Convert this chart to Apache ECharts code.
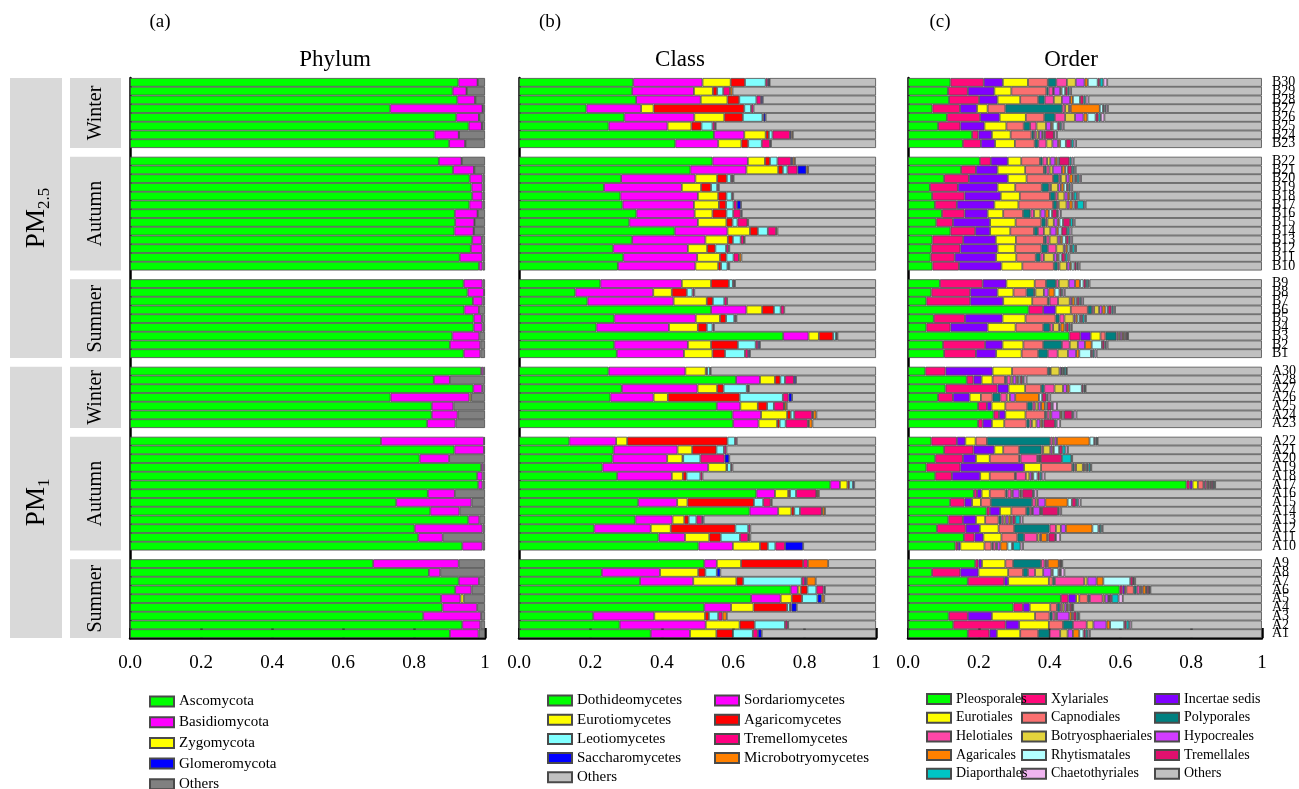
<!DOCTYPE html>
<html><head><meta charset="utf-8">
<script src="https://cdn.jsdelivr.net/npm/echarts@6/dist/echarts.min.js"></script>
<style>html,body{margin:0;padding:0;background:#fff}#c{width:1299px;height:789px}</style>
</head><body><div id="c"></div><script>
// ---------------- DATA ----------------
const samples = ['B30','B29','B28','B27','B26','B25','B24','B23',
 'B22','B21','B20','B19','B18','B17','B16','B15','B14','B13','B12','B11','B10',
 'B9','B8','B7','B6','B5','B4','B3','B2','B1',
 'A30','A28','A27','A26','A25','A24','A23',
 'A22','A21','A20','A19','A18','A17','A16','A15','A14','A13','A12','A11','A10',
 'A9','A8','A7','A6','A5','A4','A3','A2','A1'];
const groupSizes = [8,13,9,7,13,9];
const seasonLabels = ['Winter','Autumn','Summer','Winter','Autumn','Summer'];
const xTicks = [0,0.2,0.4,0.6,0.8,1];

const phylumNames = ['Ascomycota','Basidiomycota','Zygomycota','Glomeromycota','Others'];
const phylumColors = ['#00ff00','#ff00ff','#ffff00','#0000ff','#808080'];
const phylumRows = [
[.925,.054,.001,0,.020],[.909,.039,.001,0,.051],[.922,.050,.001,0,.027],[.733,.260,.001,0,.006],
[.919,.064,.001,0,.016],[.954,.037,.001,0,.008],[.858,.068,.001,0,.073],[.899,.045,.001,0,.055],
[.870,.064,.001,0,.065],[.910,.059,.001,0,.030],[.957,.036,0,0,.007],[.962,.031,0,0,.007],
[.964,.029,0,0,.007],[.956,.037,0,0,.007],[.915,.064,.001,0,.020],[.916,.054,.001,0,.029],
[.914,.054,.001,0,.031],[.964,.027,0,0,.009],[.960,.033,0,0,.007],[.929,.064,0,0,.007],
[.983,.010,0,0,.007],
[.940,.053,0,0,.007],[.951,.046,0,0,.003],[.966,.027,0,0,.007],[.942,.041,0,0,.017],
[.968,.023,0,0,.009],[.968,.025,0,0,.007],[.908,.076,0,0,.016],[.901,.086,0,0,.013],
[.940,.047,0,0,.013],
[.989,.006,0,0,.005],[.856,.045,0,0,.099],[.967,.025,0,0,.008],[.734,.222,.005,0,.039],
[.850,.061,0,0,.089],[.850,.073,0,0,.077],[.837,.080,0,0,.083],
[.707,.290,0,0,.003],[.914,.083,0,0,.003],[.816,.083,0,0,.101],[.989,.006,0,0,.005],
[.978,.015,0,0,.007],[.981,.012,0,0,.007],[.839,.076,0,0,.085],[.750,.212,0,0,.038],
[.846,.082,0,0,.072],[.953,.031,0,0,.016],[.802,.191,0,0,.007],[.812,.069,0,0,.119],
[.936,.057,0,0,.007],
[.685,.241,0,0,.074],[.842,.032,0,0,.126],[.926,.057,0,0,.017],[.916,.046,0,0,.038],
[.876,.055,.009,0,.060],[.880,.098,0,0,.022],[.826,.163,0,0,.011],[.936,.051,0,0,.013],
[.901,.081,0,0,.018]];

const classNames = ['Dothideomycetes','Sordariomycetes','Eurotiomycetes','Agaricomycetes','Leotiomycetes','Tremellomycetes','Saccharomycetes','Microbotryomycetes','Others'];
const classColors = ['#00ff00','#ff00ff','#ffff00','#ff0000','#80ffff','#ff0080','#0000ff','#ff8000','#c0c0c0'];
const classRows = [
[.320,.194,.079,.040,.058,.006,.004,.001,.298],[.317,.173,.053,.012,.017,.019,0,.007,.402],
[.328,.181,.075,.033,.048,.013,.005,0,.317],[.189,.153,.035,.254,.019,.007,0,0,.343],
[.295,.196,.084,.052,.055,.003,.006,0,.309],[.251,.165,.067,.028,.031,.007,.002,0,.449],
[.546,.085,.060,.009,.010,.049,.004,.004,.233],[.438,.120,.065,.019,.038,.023,.003,0,.294],
[.542,.099,.048,.014,.021,.038,.005,.006,.227],[.480,.157,.089,.013,.013,.028,.025,.005,.190],
[.286,.208,.061,.027,.012,.005,.002,0,.399],[.238,.218,.054,.028,.017,.005,0,0,.440],
[.284,.217,.057,.023,.015,.004,0,0,.400],[.290,.200,.070,.020,.021,.009,.012,0,.378],
[.329,.163,.050,.039,.019,.021,.003,0,.376],[.309,.192,.080,.017,.014,.028,.002,0,.358],
[.436,.148,.063,.022,.028,.023,0,.004,.276],[.317,.205,.063,.014,.022,.009,.002,0,.368],
[.264,.209,.054,.023,.030,.007,.002,0,.411],[.292,.207,.064,.018,.020,.015,0,.007,.377],
[.277,.217,.064,.008,.018,.003,.002,0,.411],
[.228,.228,.082,.050,.011,.004,.002,0,.395],[.158,.218,.052,.042,.016,.005,0,0,.509],
[.192,.241,.093,.017,.032,.008,0,0,.417],[.538,.099,.044,.033,.019,.010,0,0,.257],
[.267,.228,.068,.017,.023,.004,.002,0,.391],[.217,.203,.081,.025,.016,.004,0,0,.454],
[.740,.071,.029,.040,.008,.002,.002,0,.108],[.267,.206,.065,.075,.050,.007,.005,0,.325],
[.274,.188,.080,.035,.056,.009,.005,0,.353],
[.251,.215,.057,.004,.008,.002,0,0,.463],[.608,.067,.042,.015,.013,.025,.006,0,.224],
[.288,.212,.055,.018,.065,.004,.002,0,.356],[.256,.121,.040,.201,.121,.016,.010,0,.235],
[.554,.066,.049,.026,.019,.028,.002,.006,.250],[.598,.080,.073,.010,.010,.050,.003,.009,.167],
[.600,.071,.052,.007,.017,.062,.003,.010,.178],
[.141,.131,.031,.281,.021,.005,0,0,.390],[.265,.179,.041,.068,.021,.007,0,0,.419],
[.262,.153,.043,.002,.048,.068,.013,0,.411],[.234,.296,.051,.002,.011,.004,0,0,.402],
[.275,.153,.031,.010,.039,.006,0,0,.486],[.872,.027,.021,.005,.010,0,.004,0,.061],
[.665,.052,.037,.005,.017,.057,.002,.005,.160],[.334,.109,.029,.186,.026,.021,0,.003,.292],
[.646,.080,.037,.008,.016,.061,.002,.007,.143],[.326,.104,.033,.012,.022,.016,.004,0,.483],
[.211,.158,.056,.181,.036,.006,0,0,.352],[.391,.074,.068,.032,.054,.023,.002,.004,.352],
[.503,.096,.076,.022,.021,.027,.051,0,.204],
[.519,.035,.068,.174,0,.013,0,.057,.134],[.232,.163,.107,.020,.032,0,.010,0,.436],
[.339,.149,.121,.019,.164,.009,.005,.025,.169],[.761,.020,.008,.019,.025,.020,.004,0,.143],
[.650,.083,.031,.029,.043,0,.012,.007,.145],[.519,.075,.063,.094,.008,.004,.015,0,.222],
[.208,.171,.142,.011,.026,.012,0,.012,.418],[.282,.241,.095,.042,.085,.007,.002,0,.246],
[.369,.110,.074,.046,.056,.014,.011,0,.320]];

const orderNames = ['Pleosporales','Xylariales','Incertae sedis','Eurotiales','Capnodiales','Polyporales','Helotiales','Botryosphaeriales','Hypocreales','Agaricales','Rhytismatales','Tremellales','Diaporthales','Chaetothyriales','Others'];
const orderColors = ['#00ff00','#ff0a7a','#8000ff','#ffff00','#fa7070','#008080','#ff46a8','#e3d33c','#d23cff','#ff8000','#b4ffff','#e0106e','#00c4c4','#f0b4f0','#c0c0c0'];
const orderRows = [
[.120,.094,.054,.071,.056,.024,.030,.025,.025,.009,.028,.006,.010,.011,.437],
[.113,.056,.075,.048,.099,.006,.013,.002,.018,.004,.010,.007,.005,.005,.539],
[.116,.085,.052,.064,.051,.018,.026,.023,.023,.008,.020,.010,.006,.008,.490],
[.069,.078,.048,.030,.050,.161,.008,.011,.005,.082,.009,.004,.004,.006,.435],
[.110,.094,.055,.074,.052,.030,.029,.028,.024,.011,.023,.008,.007,.010,.445],
[.085,.063,.068,.062,.049,.018,.018,.027,.014,.005,.014,.006,.005,.006,.560],
[.181,.018,.038,.053,.059,.007,.007,.007,.009,.004,.004,.025,.002,.007,.579],
[.155,.051,.040,.056,.056,.010,.023,.017,.016,.006,.016,.015,.007,.007,.525],
[.203,.031,.048,.038,.053,.007,.013,.009,.014,.006,.005,.029,.006,.006,.532],
[.150,.042,.061,.078,.053,.007,.009,.009,.026,.009,.007,.012,.006,.005,.526],
[.102,.070,.110,.053,.075,.016,.006,.015,.009,.010,.006,.005,.007,.005,.511],
[.062,.079,.112,.050,.075,.020,.006,.020,.008,.008,.009,.005,.005,.005,.536],
[.068,.092,.102,.054,.085,.015,.007,.019,.009,.006,.006,.005,.009,.005,.518],
[.076,.062,.106,.068,.098,.011,.005,.022,.008,.009,.006,.007,.019,.005,.498],
[.096,.064,.065,.044,.056,.021,.010,.018,.014,.010,.009,.014,.004,.007,.568],
[.080,.047,.105,.072,.073,.012,.005,.018,.011,.005,.010,.020,.008,.005,.529],
[.120,.070,.042,.057,.067,.011,.017,.018,.017,.006,.009,.015,.007,.006,.538],
[.069,.087,.092,.057,.079,.007,.009,.023,.007,.006,.010,.008,.005,.005,.536],
[.066,.082,.105,.050,.074,.018,.024,.021,.005,.006,.007,.005,.008,.004,.525],
[.064,.068,.117,.057,.055,.013,.010,.028,.009,.005,.008,.010,.007,.005,.544],
[.069,.075,.120,.059,.089,.011,.005,.021,.008,.005,.008,.006,.004,.005,.515],
[.090,.121,.067,.080,.032,.028,.008,.028,.018,.014,.010,.007,.006,.004,.487],
[.066,.110,.077,.045,.037,.021,.004,.024,.013,.017,.014,.005,.004,.006,.557],
[.052,.124,.093,.082,.044,.005,.024,.033,.006,.008,.006,.007,.005,.006,.505],
[.341,.041,.035,.043,.048,.012,.006,.014,.009,.009,.007,.010,.005,.005,.415],
[.073,.088,.106,.065,.085,.011,.014,.026,.005,.006,.007,.006,.007,.004,.497],
[.052,.068,.105,.079,.078,.019,.009,.017,.004,.011,.004,.008,.005,.004,.537],
[.456,.031,.029,.028,.014,.031,.005,.005,.006,.005,.004,.004,.002,.002,.378],
[.099,.119,.049,.059,.056,.053,.022,.023,.020,.019,.029,.007,.004,.005,.436],
[.102,.090,.057,.072,.047,.027,.028,.029,.023,.009,.033,.005,.005,.006,.467],
[.049,.057,.133,.055,.101,.006,.002,.025,.005,.002,.004,.002,.006,.002,.551],
[.166,.019,.023,.031,.035,.005,.011,.006,.010,.005,.006,.006,.004,.008,.665],
[.106,.147,.031,.047,.045,.009,.029,.024,.011,.007,.035,.005,.004,.002,.498],
[.085,.042,.047,.032,.033,.022,.018,.009,.015,.067,.009,.012,.004,.007,.598],
[.198,.025,.013,.039,.062,.015,.008,.008,.008,.011,.006,.012,.004,.012,.579],
[.242,.015,.018,.057,.055,.005,.008,.005,.025,.005,.006,.023,.004,.008,.524],
[.198,.013,.026,.035,.063,.008,.007,.013,.011,.005,.004,.032,.005,.010,.570],
[.066,.072,.024,.029,.032,.179,.007,.005,.007,.092,.013,.004,.004,.002,.464],
[.102,.083,.059,.025,.045,.063,.005,.020,.006,.004,.015,.009,.009,.007,.548],
[.077,.078,.037,.039,.083,.004,.047,.003,.003,.002,.002,.060,.027,.002,.536],
[.052,.096,.180,.048,.088,.006,.005,.019,.004,.004,.004,.004,.006,.002,.482],
[.077,.047,.080,.027,.071,.003,.028,.010,.007,.004,.012,.006,.006,.008,.614],
[.787,.009,.008,.015,.016,.003,.006,.004,.004,.003,.002,.005,.004,.002,.132],
[.186,.009,.013,.023,.045,.005,.011,.004,.019,.004,.004,.030,.004,.008,.635],
[.119,.041,.021,.025,.028,.117,.010,.006,.021,.063,.012,.012,.006,.007,.512],
[.222,.009,.029,.032,.042,.010,.006,.003,.020,.003,.003,.045,.004,.005,.567],
[.114,.041,.037,.026,.038,.008,.006,.006,.008,.007,.004,.008,.014,.007,.676],
[.082,.081,.040,.053,.044,.100,.018,.014,.014,.075,.017,.004,.005,.003,.450],
[.158,.030,.025,.051,.045,.019,.037,.007,.004,.017,.004,.019,.002,.012,.570],
[.134,.007,.007,.068,.020,.004,.008,.004,.009,.020,.013,.003,.021,.007,.675],
[.190,.009,.010,.066,.022,.079,.010,.004,.005,.031,.002,.004,.002,.002,.564],
[.068,.080,.051,.084,.042,.014,.020,.023,.023,.004,.016,.004,.003,.010,.558],
[.169,.103,.011,.115,.011,.006,.083,.009,.026,.019,.076,.008,.002,.004,.358],
[.598,.008,.007,.004,.021,.008,.009,.004,.004,.009,.003,.006,.002,.002,.315],
[.432,.021,.022,.009,.024,.006,.036,.006,.010,.002,.002,.006,.019,.012,.393],
[.298,.027,.019,.058,.019,.009,.006,.006,.007,.004,.004,.006,.002,.002,.533],
[.115,.054,.068,.122,.041,.008,.008,.005,.035,.007,.004,.009,.005,.003,.516],
[.128,.148,.038,.084,.040,.028,.039,.019,.037,.010,.040,.006,.008,.006,.369],
[.169,.061,.021,.066,.051,.032,.030,.021,.015,.018,.012,.006,.006,.006,.486]];

// ---------------- BUILD ----------------
const FONT = "'Times New Roman','Liberation Serif',serif";
const TOP = 78, H = 560;
const nSlots = groupSizes.reduce((a,b)=>a+b,0) + groupSizes.length - 1;
const slotH = H / nSlots;
function withGaps(arr, gapFn){
  const out=[]; let i=0;
  groupSizes.forEach((n,g)=>{ for(let k=0;k<n;k++) out.push(arr[i++]); if(g<groupSizes.length-1) out.push(gapFn(g)); });
  return out;
}
const slots = withGaps(samples, g=>'gap'+g);

const panels = [
  {key:'p', left:130, width:355, names:phylumNames, colors:phylumColors, rows:phylumRows, title:'Phylum', tag:'(a)', titleX:335, tagX:160},
  {key:'c', left:519, width:357, names:classNames, colors:classColors, rows:classRows, title:'Class', tag:'(b)', titleX:680, tagX:550},
  {key:'o', left:908, width:357, names:orderNames, colors:orderColors, rows:orderRows, title:'Order', tag:'(c)', titleX:1071, tagX:940}
];

const grid = panels.map(p=>({left:p.left, top:TOP, width:p.width, height:H}));
const xAxis = panels.map((p,i)=>({
  type:'value', gridIndex:i, min:0, max:1, interval:0.2,
  axisLine:{show:true, lineStyle:{color:'#000', width:2.5}},
  axisTick:{show:true, inside:true, length:10, lineStyle:{color:'#000', width:2.5}},
  splitLine:{show:false},
  axisLabel:{fontFamily:FONT, fontSize:19, color:'#000', margin:16,
    formatter:v=> Math.abs(v-1)<1e-9 ? '1' : v.toFixed(1)}
}));
const yAxis = panels.map((p,i)=>({
  type:'category', gridIndex:i, inverse:true, data:slots,
  axisLine:{show:true, onZero:false, lineStyle:{color:'#000', width:2.5}},
  axisTick:{show:false}, axisLabel:{show:false}, splitLine:{show:false}
}));
yAxis.push({
  type:'category', gridIndex:2, position:'right', inverse:true, data:slots,
  axisLine:{show:false, onZero:false}, axisTick:{show:false}, splitLine:{show:false},
  axisLabel:{show:true, interval:0, fontFamily:FONT, fontSize:14, color:'#000', margin:10,
    formatter:v=> v.indexOf('gap')===0 ? '' : v}
});

const series = [];
panels.forEach((p,i)=>{
  p.names.forEach((nm,j)=>{
    series.push({
      type:'bar', name:p.key+':'+nm, xAxisIndex:i, yAxisIndex:i, stack:p.key,
      barCategoryGap:'0%', silent:true, emphasis:{disabled:true},
      itemStyle:{color:p.colors[j], borderColor:'#4a4a4a', borderWidth:0.8},
      data: withGaps(p.rows.map(r=> r[j]===0 ? '-' : r[j]), ()=>'-')
    });
  });
});

const legFmt = n => n.slice(2);
function legend(left, top, gap, names, fs, z){
  return {type:'plain', orient:'vertical', left, top, height:110, itemWidth:24, itemHeight:10, itemGap:gap, icon:'rect',
    selectedMode:false, formatter:legFmt, data:names, padding:0, z:z||4,
    textStyle:{fontFamily:FONT, fontSize:fs, color:'#000'}};
}
const legends = [
  legend(149, 694, 5.7, phylumNames.map(n=>'p:'+n), 15),
  legend(547, 693, 4.2, ['Dothideomycetes','Eurotiomycetes','Leotiomycetes','Saccharomycetes','Others'].map(n=>'c:'+n), 15),
  legend(714, 693, 4.2, ['Sordariomycetes','Agaricomycetes','Tremellomycetes','Microbotryomycetes'].map(n=>'c:'+n), 15),
  legend(926, 692, 4.7, ['Pleosporales','Eurotiales','Helotiales','Agaricales','Diaporthales'].map(n=>'o:'+n), 14, 6),
  legend(1021, 692, 4.7, ['Xylariales','Capnodiales','Botryosphaeriales','Rhytismatales','Chaetothyriales'].map(n=>'o:'+n), 14, 5),
  legend(1154, 692, 4.7, ['Incertae sedis','Polyporales','Hypocreales','Tremellales','Others'].map(n=>'o:'+n), 14, 4)
];

// side boxes
const graphic = [];
let s = 0; const ranges = [];
groupSizes.forEach(n=>{ ranges.push([s, s+n]); s += n+1; });
const yOf = k => TOP + k*slotH;
ranges.forEach((r,g)=>{
  const y0 = yOf(r[0]), y1 = yOf(r[1]);
  graphic.push({type:'rect', shape:{x:70, y:y0, width:51, height:y1-y0}, style:{fill:'#d9d9d9'}, silent:true});
  graphic.push({type:'text', x:96, y:(y0+y1)/2, rotation:Math.PI/2, silent:true,
    style:{text:seasonLabels[g], fontFamily:FONT, fontSize:20, fill:'#000', align:'center', verticalAlign:'middle'}});
});
const pmGroups = [[0,2,'2.5'],[3,5,'1']];
pmGroups.forEach(pg=>{
  const y0 = yOf(ranges[pg[0]][0]), y1 = yOf(ranges[pg[1]][1]);
  graphic.push({type:'rect', shape:{x:10, y:y0, width:52, height:y1-y0}, style:{fill:'#d9d9d9'}, silent:true});
  graphic.push({type:'text', x:37, y:(y0+y1)/2, rotation:Math.PI/2, silent:true,
    style:{text:'{a|PM}{b|'+pg[2]+'}', align:'center', verticalAlign:'middle', fill:'#000',
      rich:{a:{fontFamily:FONT, fontSize:27, lineHeight:32, fill:'#000'},
            b:{fontFamily:FONT, fontSize:17, lineHeight:14, verticalAlign:'bottom', fill:'#000'}}}});
});
panels.forEach(p=>{
  graphic.push({type:'text', x:p.tagX, y:22, silent:true,
    style:{text:p.tag, fontFamily:FONT, fontSize:19, fill:'#000', align:'center', verticalAlign:'middle'}});
  graphic.push({type:'text', x:p.titleX, y:60, silent:true,
    style:{text:p.title, fontFamily:FONT, fontSize:23, fill:'#000', align:'center', verticalAlign:'middle'}});
});

const chart = echarts.init(document.getElementById('c'), null, {renderer:'canvas'});
chart.setOption({
  animation:false, backgroundColor:'#fff',
  grid, xAxis, yAxis, series, legend:legends, graphic
});
</script></body></html>
